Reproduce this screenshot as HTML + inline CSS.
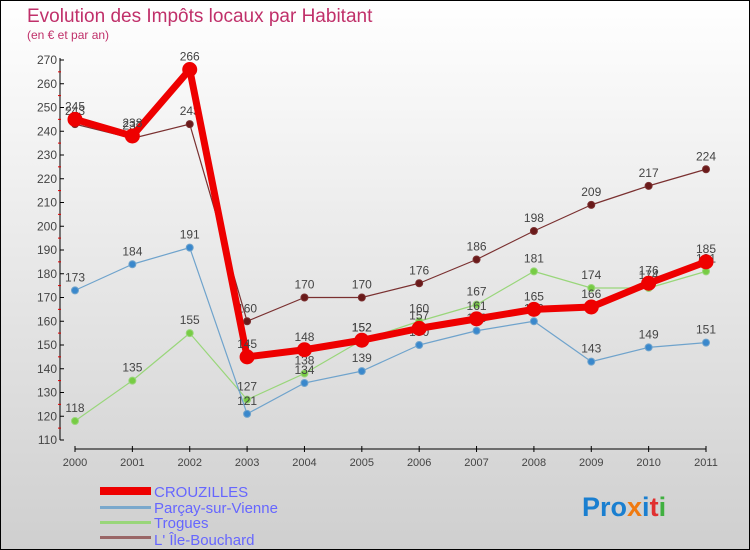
<!DOCTYPE html>
<html><head><meta charset="utf-8"><style>
body{margin:0;background:#fff}
svg{display:block;font-family:"Liberation Sans",sans-serif}
</style></head><body>
<svg width="750" height="550">
<defs><linearGradient id="bg" x1="0" y1="0" x2="0" y2="1"><stop offset="0" stop-color="#ffffff"/><stop offset="1" stop-color="#cfcfcf"/></linearGradient></defs>
<rect x="0.5" y="0.5" width="749" height="549" fill="url(#bg)" stroke="#000"/>
<text x="27" y="22" font-size="19" fill="#c0306a">Evolution des Impôts locaux par Habitant</text>
<text x="27" y="39" font-size="12" fill="#c0306a">(en € et par an)</text>
<g id="axes"></g><g id="series"></g>
<g>
<rect x="100" y="487" width="51" height="8" fill="#e00"/>
<text x="154" y="497" font-size="15" fill="#6666ff">CROUZILLES</text>
<rect x="100" y="506" width="51" height="3" fill="#7aa8cc"/>
<text x="154" y="513" font-size="15" fill="#6666ff">Parçay-sur-Vienne</text>
<rect x="100" y="521" width="51" height="3" fill="#99d67a"/>
<text x="154" y="528" font-size="15" fill="#6666ff">Trogues</text>
<rect x="100" y="536" width="51" height="3" fill="#996666"/>
<text x="154" y="545" font-size="15" fill="#6666ff">L' Île-Bouchard</text>
</g>
<text x="582" y="516" font-size="27" font-weight="bold"><tspan fill="#1a7fd0">Pro</tspan><tspan fill="#f07a10">x</tspan><tspan fill="#1a7fd0">i</tspan><tspan fill="#e03030">t</tspan><tspan fill="#40b040">i</tspan></text>
</svg>
<script>
const years=["2000","2001","2002","2003","2004","2005","2006","2007","2008","2009","2010","2011"];
const yTicks=[110,120,130,140,150,160,170,180,190,200,210,220,230,240,250,260,270];
const crouzilles=[245,238,266,145,148,152,157,161,165,166,176,185];
const parcay=[173,184,191,121,134,139,150,156,160,143,149,151];
const trogues=[118,135,155,127,138,152,160,167,181,174,174,181];
const ileBouchard=[243,237,243,160,170,170,176,186,198,209,217,224];
const NS="http://www.w3.org/2000/svg";
const xs=i=>75+i*(706-75)/11;
const ys=v=>440-(v-110)*(380/160);
function mk(t,a,p){const e=document.createElementNS(NS,t);for(const k in a)e.setAttribute(k,a[k]);p.appendChild(e);return e;}
const ax=document.getElementById('axes');
const ya=mk('line',{x1:60,y1:58,x2:60,y2:440,stroke:'#000'},ax);

const xa=mk('line',{x1:75,y1:449,x2:706,y2:449,stroke:'#000'},ax);

yTicks.forEach((v,i)=>{const y=ys(v);mk('line',{x1:60,y1:y,x2:64,y2:y,stroke:'#000'},ax);
if(i<yTicks.length-1)mk('line',{x1:58,y1:y-11.9,x2:61,y2:y-11.9,stroke:'#d00'},ax);
const t=mk('text',{x:57,y:y+4,'font-size':12,fill:'#444','text-anchor':'end'},ax);t.textContent=v;
});
years.forEach((yr,i)=>{const x=xs(i);mk('line',{x1:x,y1:446,x2:x,y2:452,stroke:'#000'},ax);
const t=mk('text',{x:x,y:466,'font-size':11,fill:'#444','text-anchor':'middle'},ax);t.textContent=yr;
});
const sg=document.getElementById('series');
function draw(vals,color,w,r,name,dot){const g=mk('g',{},sg);

const p=mk('polyline',{points:vals.map((v,i)=>xs(i)+','+ys(v)).join(' '),fill:'none',stroke:color,'stroke-width':w,'stroke-linejoin':'round'},g);

vals.forEach((v,i)=>{const c=mk('circle',{cx:xs(i),cy:ys(v),r:r,fill:dot,stroke:color,'stroke-width':1},g);

const t=mk('text',{x:xs(i),y:ys(v)-9,'font-size':12,fill:'#444','text-anchor':'middle'},g);t.textContent=v;
});}
draw(ileBouchard,'#7a3030',1.2,3.5,'ile-bouchard','#6a1a1a');
draw(trogues,'#99d67a',1.2,3.5,'trogues','#77cc44');
draw(parcay,'#6fa3cc',1.2,3.5,'parcay','#3a88cc');
draw(crouzilles,'#ee0000',7,7,'crouzilles','#ee0000');
</script>
</body></html>
